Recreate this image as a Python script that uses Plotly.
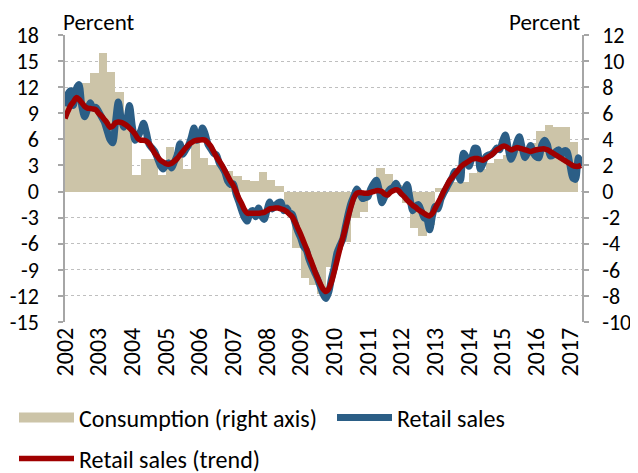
import plotly.graph_objects as go

# ---------------- data ----------------
years = list(range(2002, 2018))
year_labels = [str(y) for y in years]
left_ticks = list(range(-15, 19, 3))
left_tick_labels = [str(v) for v in left_ticks]      # plain hyphen-minus as in original
right_ticks = list(range(-10, 13, 2))
right_tick_labels = [str(v) for v in right_ticks]

# Quarterly consumption growth (right axis), 2002Q1 .. 2017Q1
consumption = [
    6.6, 7.6, 8.35, 9.1,        # 2002
    10.6, 9.2, 7.65, 5.3,       # 2003
    1.27, 2.47, 2.47, 1.27,     # 2004
    3.44, 3.0, 1.7, 4.05,       # 2005
    2.55, 2.0, 2.0, 1.6,        # 2006
    1.2, 0.89, 0.81, 1.48,      # 2007
    0.92, 0.4, -1.3, -4.3,      # 2008
    -6.6, -7.15, -7.85, -5.75,  # 2009
    -4.5, -3.9, -2.0, -1.54,    # 2010
    0.3, 1.78, 1.35, 0.5,       # 2011
    -0.9, -2.76, -3.4, -2.6,    # 2012
    0.3, 0.5, 0.72, 0.72,       # 2013
    1.45, 1.7, 2.17, 2.47,      # 2014
    2.8, 3.19, 3.19, 3.7,       # 2015
    4.64, 5.1, 4.97, 4.92,      # 2016
    3.77,                       # 2017
]

# Monthly retail sales growth (left axis), Jan 2002 .. May 2017
retail = [
    9.8, 11.2, 11.6, 9.9, 11.8, 12.3, 9.8, 8.6, 9.4, 10.2, 9.6, 9.7,        # 2002
    9.2, 8.6, 8.0, 7.0, 6.0, 5.6, 8.0, 10.3, 8.5, 7.4, 8.2, 9.9,            # 2003
    7.5, 5.9, 6.3, 7.0, 7.85, 6.8, 5.4, 5.0, 4.6, 3.8, 3.0, 2.6,            # 2004
    3.0, 3.3, 2.7, 3.4, 4.2, 5.5, 4.3, 4.8, 5.3, 6.2, 7.3, 5.9,             # 2005
    6.2, 7.3, 6.6, 5.4, 4.9, 4.4, 4.2, 3.3, 2.8, 2.2, 1.2, 0.8,             # 2006
    0.9, -0.3, -1.2, -2.2, -3.0, -3.4, -2.4, -2.2, -2.9, -1.9, -2.8, -3.2,  # 2007
    -2.2, -1.2, -2.0, -1.6, -1.3, -1.2, -2.2, -1.9, -2.4, -2.6, -3.6, -4.6, # 2008
    -5.3, -6.3, -6.7, -7.8, -8.6, -9.3, -10.0, -10.9, -11.8, -12.3, -11.6, -10.0,  # 2009
    -8.7, -7.0, -6.2, -5.5, -4.0, -2.5, -1.3, -0.5, 0.3, -0.2, -0.8, -0.7,  # 2010
    -0.6, 0.3, 0.9, 1.3, 0.2, -1.3, -0.6, -0.1, 0.3, 0.5, 0.95, 0.3,        # 2011
    -0.2, 0.2, 0.8, -0.8, -2.2, -1.7, -1.5, -2.2, -3.0, -3.2, -4.4, -2.8,   # 2012
    -1.7, -2.0, -0.9, -0.2, 0.4, 1.0, 1.6, 2.3, 2.0, 1.3, 4.4, 4.0,         # 2013
    2.9, 3.8, 5.0, 4.9, 2.6, 3.2, 4.0, 4.2, 4.3, 4.6, 5.0, 4.8,             # 2014
    5.8, 6.5, 5.0, 3.7, 4.4, 5.6, 6.3, 5.0, 3.9, 4.5, 5.3, 4.4,             # 2015
    4.0, 3.9, 5.4, 5.9, 5.4, 4.1, 4.2, 4.6, 4.8, 4.2, 4.7, 4.6,             # 2016
    3.1, 1.6, 1.4, 3.9, 2.9,                                                # 2017
]

# Monthly retail sales trend (left axis)
trend = [
    8.4, 9.2, 9.9, 10.3, 10.8, 10.6, 10.2, 9.8, 9.6, 9.55, 9.5, 9.4,        # 2002
    9.0, 8.7, 8.3, 7.9, 7.4, 7.5, 7.9, 8.0, 7.95, 7.8, 7.6, 7.3,            # 2003
    7.0, 6.6, 6.1, 5.9, 5.9, 5.8, 5.5, 5.0, 4.4, 4.0, 3.6, 3.4,             # 2004
    3.2, 3.15, 3.25, 3.5, 3.8, 4.2, 4.6, 5.0, 5.36, 5.6, 5.8, 5.9,          # 2005
    5.93, 5.95, 5.9, 5.6, 5.2, 4.6, 4.0, 3.5, 3.0, 2.4, 1.8, 1.2,           # 2006
    0.7, 0.0, -0.8, -1.4, -2.1, -2.5, -2.5, -2.5, -2.5, -2.5, -2.45, -2.4,  # 2007
    -2.2, -2.0, -1.95, -1.9, -1.9, -2.0, -2.1, -2.3, -2.6, -2.9, -3.5, -4.2,  # 2008
    -4.9, -5.7, -6.5, -7.4, -8.2, -9.1, -9.9, -10.6, -11.2, -11.5, -11.2, -10.4,  # 2009
    -9.2, -7.9, -6.6, -5.4, -4.2, -2.9, -1.7, -0.7, -0.2, -0.1, -0.15, -0.2,  # 2010
    -0.2, -0.1, 0.0, 0.1, 0.1, 0.0, -0.3, -0.4, -0.1, 0.1, 0.2, 0.1,        # 2011
    -0.3, -0.6, -1.0, -1.3, -1.6, -1.8, -2.1, -2.3, -2.5, -2.7, -2.8, -2.5, # 2012
    -1.9, -1.3, -0.7, 0.0, 0.6, 1.2, 1.6, 2.0, 2.4, 2.8, 3.1, 3.3,          # 2013
    3.5, 3.7, 3.8, 3.8, 3.7, 3.6, 3.8, 4.0, 4.2, 4.5, 4.8, 5.0,             # 2014
    5.2, 5.2, 5.0, 4.8, 4.9, 5.05, 5.0, 4.9, 4.8, 4.7, 4.6, 4.7,            # 2015
    4.8, 4.85, 4.9, 4.9, 4.8, 4.6, 4.4, 4.2, 4.0, 3.8, 3.6, 3.4,            # 2016
    3.2, 3.0, 2.9, 2.9, 3.0,                                                # 2017
]

START_YEAR = 2002
month_x = [START_YEAR + i / 12 for i in range(len(retail))]
quarter_x = [START_YEAR + i / 4 for i in range(len(consumption))]

BEIGE = "#CCC4A8"
BLUE = "#2B5E86"
RED = "#A00000"
GRID = "#BFBFBF"
AXIS = "#A6A6A6"
FONT = "Carlito, Calibri, Lato, sans-serif"
FS = 24      # legend / year labels
FS_T = 23    # "Percent" captions
FS_Y = 22    # value-axis tick labels

x_range = [2002, 2017.36]

fig = go.Figure()
fig.add_trace(go.Bar(
    x=quarter_x, y=consumption, width=0.25, offset=0,
    marker=dict(color=BEIGE, line=dict(width=0)),
    name="Consumption (right axis)", xaxis="x", yaxis="y", showlegend=False,
))
# legend swatch for the consumption bars (wide rectangle like the original)
fig.add_trace(go.Scatter(
    x=[None], y=[None], mode="lines", line=dict(color=BEIGE, width=17),
    name="Consumption (right axis)", xaxis="x", yaxis="y", hoverinfo="skip",
    legend="legend",
))
fig.add_trace(go.Scatter(
    x=month_x, y=retail, mode="lines",
    line=dict(color=BLUE, width=7, shape="spline", smoothing=0.8),
    name="Retail sales", xaxis="x", yaxis="y2", legend="legend2",
))
fig.add_trace(go.Scatter(
    x=month_x, y=trend, mode="lines",
    line=dict(color=RED, width=5.5, shape="spline", smoothing=0.8),
    name="Retail sales (trend)", xaxis="x", yaxis="y2", legend="legend3",
))

W, H = 630, 465
leg_common = dict(orientation="h", xref="container", yref="container",
                  xanchor="left", yanchor="middle", font=dict(size=FS),
                  bgcolor="rgba(0,0,0,0)", itemwidth=55)

fig.update_layout(
    width=W, height=H,
    margin=dict(l=57, r=56, t=27, b=151, autoexpand=False),
    paper_bgcolor="white", plot_bgcolor="white",
    font=dict(family=FONT, size=FS, color="black"),
    bargap=0,
    showlegend=True,
    legend=dict(leg_common, x=6 / W, y=1 - 410 / H),
    legend2=dict(leg_common, x=324 / W, y=1 - 410 / H),
    legend3=dict(leg_common, x=6 / W, y=1 - 451 / H),
    xaxis=dict(range=x_range, tickmode="array", tickvals=years, ticktext=year_labels,
               tickangle=-90, showline=False, ticks="", showgrid=False, zeroline=False,
               tickfont=dict(size=FS), anchor="y", automargin=False),
    xaxis2=dict(range=x_range, overlaying="x", anchor="free", position=15 / 33,
                tickmode="array", tickvals=years, showticklabels=False,
                showline=True, linecolor=AXIS, linewidth=2,
                ticks="outside", ticklen=6, tickwidth=2, tickcolor=AXIS,
                showgrid=False, zeroline=False, layer="below traces", automargin=False),
    yaxis=dict(range=[-10, 12], tickmode="array", tickvals=right_ticks,
               ticktext=right_tick_labels, side="right", anchor="x",
               showgrid=True, gridcolor=GRID, griddash="dot", gridwidth=1,
               zeroline=False, showline=True, linecolor=AXIS, linewidth=1.5,
               ticks="outside", ticklen=5, tickcolor=AXIS, tickwidth=1.5,
               ticklabelstandoff=9, tickfont=dict(size=FS_Y), automargin=False),
    yaxis2=dict(range=[-15, 18], tickmode="array", tickvals=left_ticks,
                ticktext=left_tick_labels, side="left", overlaying="y", anchor="x",
                showgrid=False, zeroline=False, showline=True, linecolor=AXIS, linewidth=1.5,
                ticks="outside", ticklen=5, tickcolor=AXIS, tickwidth=1.5,
                ticklabelstandoff=15, tickfont=dict(size=FS_Y), automargin=False),
    annotations=[
        dict(text="Percent", xref="paper", yref="paper", x=0, y=1, xanchor="left",
             yanchor="bottom", showarrow=False, font=dict(size=FS_T), xshift=-4, yshift=-3),
        dict(text="Percent", xref="paper", yref="paper", x=1, y=1, xanchor="right",
             yanchor="bottom", showarrow=False, font=dict(size=FS_T), xshift=1, yshift=-3),
    ],
)

fig.write_html("out.html")
